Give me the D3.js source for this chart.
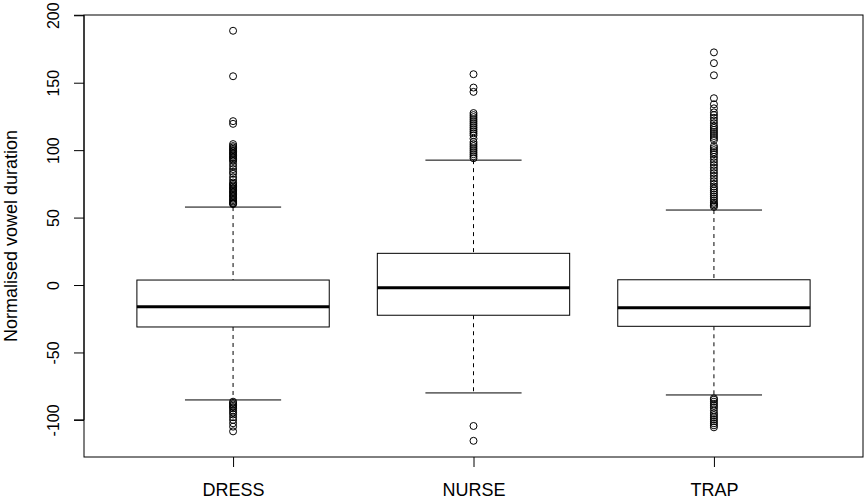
<!DOCTYPE html>
<html>
<head>
<meta charset="utf-8">
<script src="https://cdn.jsdelivr.net/npm/d3@7"></script>
<style>
  html, body { margin: 0; padding: 0; background: #fff; }
  svg text { font-family: "Liberation Sans", Arial, sans-serif; fill: #000; }
</style>
</head>
<body>
<svg id="chart" width="867" height="501"></svg>
<script>
// Vowel categories and five-number summaries (normalised duration)
const categories = ["DRESS", "NURSE", "TRAP"];
const whiskerLow  = [-85.2, -80.0, -81.5];
const q1          = [-31.1, -22.4, -30.6];
const medians     = [-16.1,  -2.0, -16.8];
const q3          = [  3.7,  23.5,   3.9];
const whiskerHigh = [ 57.8,  92.6,  55.6];

// Points beyond the whiskers
const outliersDress = [188.5, 154.8, 121.5, 119.5, 104.5, 103, 102, 101, 100, 99, 98, 97, 96, 95,
  94, 93, 92, 90, 88, 86, 84, 82.5, 80, 78, 76, 75, 74, 73, 72, 71, 70, 69, 68, 67, 66, 65, 64,
  63, 62, 61, 60.5, 60,
  -86.5, -87.5, -88.5, -89.5, -90.5, -91.5, -93, -94.5, -96, -98, -100, -102.5, -105, -108.5];
const outliersNurse = [156.3, 146.4, 143.2, 127.5, 126, 124.5, 123, 121.5, 120, 118.5, 117, 115.5,
  114, 112.5, 111, 108.5, 106, 104.5, 103, 101.5, 100, 98.5, 97, 95.5, 94,
  -104.5, -115.5];
const outliersTrap = [172.5, 164.5, 155.5, 138.5, 134, 131, 128, 126, 124, 122, 120, 118, 116.5,
  115, 113.5, 112, 110.5, 109, 107.5, 103, 101.5, 100, 98.5, 97, 95, 93, 91, 89, 87, 85, 83, 81,
  79, 77, 75, 73, 71.5, 70, 68.5, 67, 65.5, 64, 62.5, 61, 60, 59, 58,
  -84, -85, -86.5, -88, -89.5, -91, -93, -95, -96.5, -98, -99.5, -101, -102.5, -104, -105.5];
const outliers = [outliersDress, outliersNurse, outliersTrap];

const yTicks = [-100, -50, 0, 50, 100, 150, 200];
const yTitle = "Normalised vowel duration";

const svg = d3.select("#chart");
const plotLeft = 84, plotRight = 863, plotTop = 15, plotBottom = 457;

const x = d3.scaleLinear().domain([0.38, 3.62]).range([plotLeft, plotRight]);
const y = d3.scaleLinear().domain([-127.5, 200.2]).range([plotBottom, plotTop]);

const boxHalf = 0.4, stapleHalf = 0.2;

const groups = svg.append("g").selectAll("g")
  .data(categories.map((c, i) => ({
    name: c, pos: i + 1,
    lo: whiskerLow[i], q1: q1[i], med: medians[i], q3: q3[i], hi: whiskerHigh[i],
    out: outliers[i]
  })))
  .join("g");

// dashed whiskers
groups.append("line")
  .attr("x1", d => x(d.pos)).attr("x2", d => x(d.pos))
  .attr("y1", d => y(d.hi)).attr("y2", d => y(d.q3))
  .attr("stroke", "#000").attr("stroke-dasharray", "4,4");
groups.append("line")
  .attr("x1", d => x(d.pos)).attr("x2", d => x(d.pos))
  .attr("y1", d => y(d.q1)).attr("y2", d => y(d.lo))
  .attr("stroke", "#000").attr("stroke-dasharray", "4,4");

// staples
groups.selectAll("line.staple")
  .data(d => [d.lo, d.hi].map(v => ({ pos: d.pos, v })))
  .join("line").attr("class", "staple")
  .attr("x1", d => x(d.pos - stapleHalf)).attr("x2", d => x(d.pos + stapleHalf))
  .attr("y1", d => y(d.v)).attr("y2", d => y(d.v))
  .attr("stroke", "#000");

// boxes
groups.append("rect")
  .attr("x", d => x(d.pos - boxHalf))
  .attr("width", d => x(d.pos + boxHalf) - x(d.pos - boxHalf))
  .attr("y", d => y(d.q3))
  .attr("height", d => y(d.q1) - y(d.q3))
  .attr("fill", "#fff").attr("stroke", "#000");

// medians
groups.append("line")
  .attr("x1", d => x(d.pos - boxHalf)).attr("x2", d => x(d.pos + boxHalf))
  .attr("y1", d => y(d.med)).attr("y2", d => y(d.med))
  .attr("stroke", "#000").attr("stroke-width", 3);

// outlier points
groups.selectAll("circle")
  .data(d => d.out.map(v => ({ pos: d.pos, v })))
  .join("circle")
  .attr("cx", d => x(d.pos)).attr("cy", d => y(d.v))
  .attr("r", 3.5).attr("fill", "none").attr("stroke", "#000").attr("stroke-width", 1);

// y axis
const yAxis = svg.append("g").attr("transform", `translate(${plotLeft},0)`)
  .call(d3.axisLeft(y).tickValues(yTicks).tickSize(10).tickFormat(d => String(d)));
yAxis.select(".domain").attr("d", `M-10,${y(-100)}H0V${y(200)}H-10`).attr("stroke", "#000");
yAxis.selectAll(".tick line").attr("stroke", "#000");
yAxis.selectAll(".tick text")
  .attr("x", null).attr("dy", null)
  .attr("transform", "translate(-25,0) rotate(-90)")
  .attr("text-anchor", "middle")
  .style("font-family", "'Liberation Sans', Arial, sans-serif")
  .style("font-size", "16px");

// x axis
const xAxis = svg.append("g").attr("transform", `translate(0,${plotBottom})`)
  .call(d3.axisBottom(x).tickValues([1, 2, 3]).tickSize(10).tickFormat(d => categories[d - 1]));
xAxis.select(".domain").remove();
xAxis.selectAll(".tick line").attr("stroke", "#000");
xAxis.selectAll(".tick text")
  .attr("y", 39).attr("dy", null)
  .style("font-family", "'Liberation Sans', Arial, sans-serif")
  .style("font-size", "18px");

// plot frame
svg.append("rect")
  .attr("x", plotLeft).attr("y", plotTop)
  .attr("width", plotRight - plotLeft).attr("height", plotBottom - plotTop)
  .attr("fill", "none").attr("stroke", "#000");

// y axis title
svg.append("text")
  .attr("transform", `translate(17,${(plotTop + plotBottom) / 2}) rotate(-90)`)
  .attr("text-anchor", "middle")
  .style("font-size", "18px")
  .text(yTitle);
</script>
</body>
</html>
